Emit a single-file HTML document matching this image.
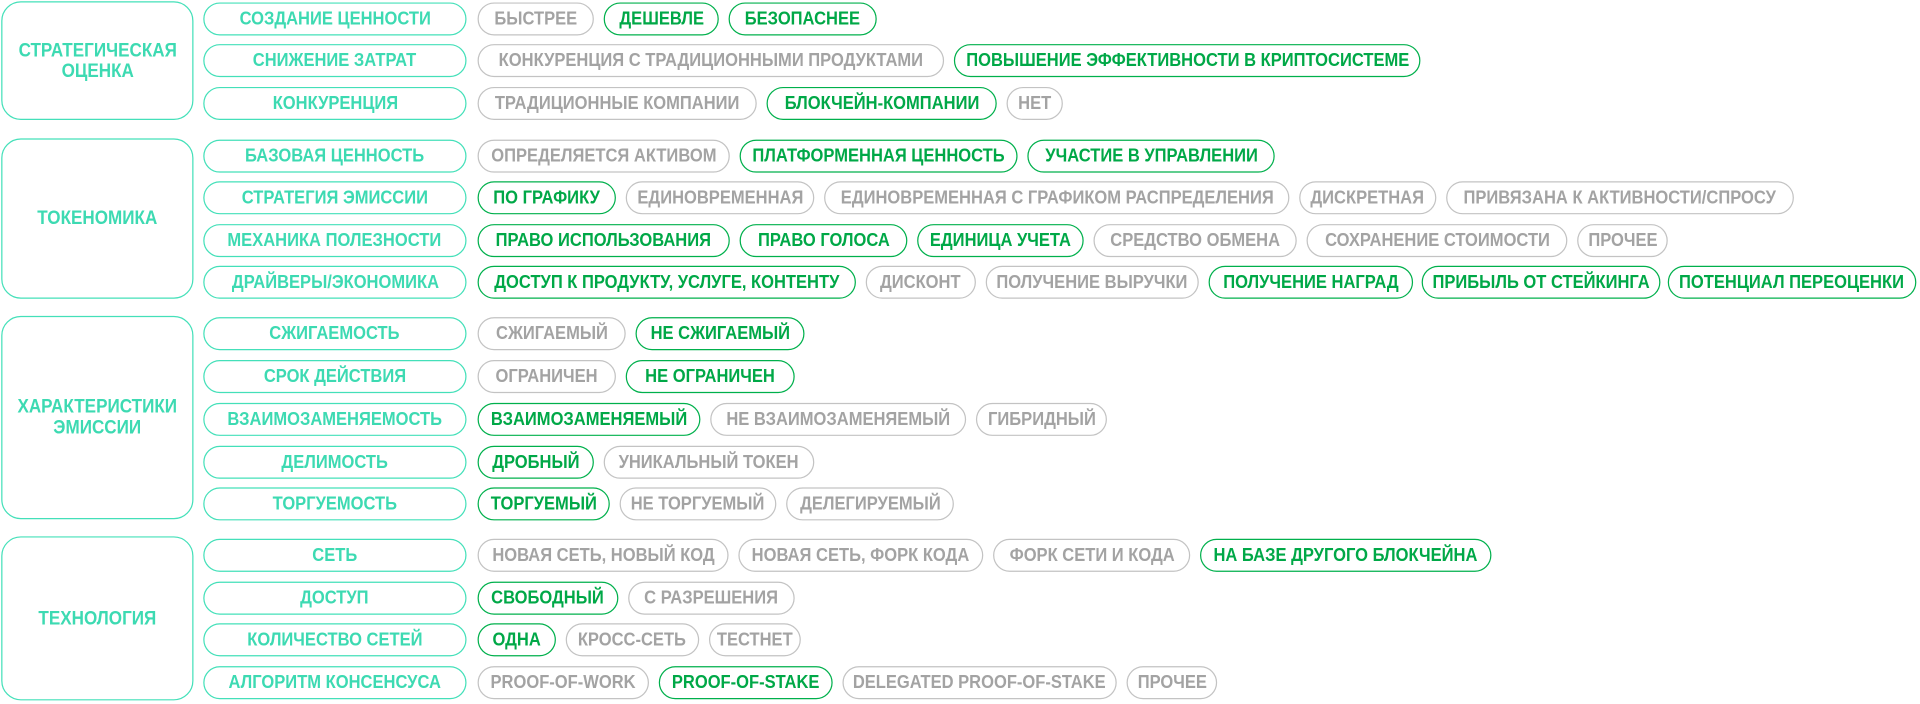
<!DOCTYPE html>
<html><head><meta charset="utf-8"><style>
html,body{margin:0;padding:0;background:#fff;}
body{width:1920px;height:704px;overflow:hidden;}
#w{position:absolute;left:0;top:0;width:1568px;height:575px;transform:scale(1.2245);transform-origin:0 0;font-family:"Liberation Sans Narrow","Liberation Sans",sans-serif;font-weight:bold;}
.c,.m,.g,.e{position:absolute;box-sizing:border-box;display:flex;align-items:center;justify-content:center;text-align:center;white-space:nowrap;font-size:15px;line-height:15px;}
.c span,.m span,.g span,.e span{display:inline-block;transform:scaleX(0.9);}
.c{border:1.5px solid #44e0b9;border-radius:16px;color:#3ddab2;left:1px;width:157px;font-size:15.5px;line-height:17px;}
.m{border:1.5px solid #44e0b9;border-radius:14px;color:#3ddab2;left:166px;width:215px;height:27px;}
.g{border:1.5px solid #c3c3c3;border-radius:14px;color:#a3a3a3;height:27px;}
.e{border:1.5px solid #00b04c;border-radius:14px;color:#00a847;height:27px;}
</style></head><body><div id="w">
<div class="c" style="top:1px;height:97px"><span>СТРАТЕГИЧЕСКАЯ<br>ОЦЕНКА</span></div>
<div class="c" style="top:113px;height:131px"><span>ТОКЕНОМИКА</span></div>
<div class="c" style="top:258px;height:166px"><span>ХАРАКТЕРИСТИКИ<br>ЭМИССИИ</span></div>
<div class="c" style="top:438px;height:134px"><span>ТЕХНОЛОГИЯ</span></div>

<div class="m" style="top:2px"><span>СОЗДАНИЕ ЦЕННОСТИ</span></div>
<div class="m" style="top:36px"><span>СНИЖЕНИЕ ЗАТРАТ</span></div>
<div class="m" style="top:71px"><span>КОНКУРЕНЦИЯ</span></div>
<div class="m" style="top:114px"><span>БАЗОВАЯ ЦЕННОСТЬ</span></div>
<div class="m" style="top:148px"><span>СТРАТЕГИЯ ЭМИССИИ</span></div>
<div class="m" style="top:183px"><span>МЕХАНИКА ПОЛЕЗНОСТИ</span></div>
<div class="m" style="top:217px"><span>ДРАЙВЕРЫ/ЭКОНОМИКА</span></div>
<div class="m" style="top:259px"><span>СЖИГАЕМОСТЬ</span></div>
<div class="m" style="top:294px"><span>СРОК ДЕЙСТВИЯ</span></div>
<div class="m" style="top:329px"><span>ВЗАИМОЗАМЕНЯЕМОСТЬ</span></div>
<div class="m" style="top:364px"><span>ДЕЛИМОСТЬ</span></div>
<div class="m" style="top:398px"><span>ТОРГУЕМОСТЬ</span></div>
<div class="m" style="top:440px"><span>СЕТЬ</span></div>
<div class="m" style="top:475px"><span>ДОСТУП</span></div>
<div class="m" style="top:509px"><span>КОЛИЧЕСТВО СЕТЕЙ</span></div>
<div class="m" style="top:544px"><span>АЛГОРИТМ КОНСЕНСУСА</span></div>

<div class="g" style="top:2px;left:390px;width:95px"><span>БЫСТРЕЕ</span></div>
<div class="e" style="top:2px;left:493px;width:94px"><span>ДЕШЕВЛЕ</span></div>
<div class="e" style="top:2px;left:595px;width:121px"><span>БЕЗОПАСНЕЕ</span></div>

<div class="g" style="top:36px;left:390px;width:381px"><span>КОНКУРЕНЦИЯ С ТРАДИЦИОННЫМИ ПРОДУКТАМИ</span></div>
<div class="e" style="top:36px;left:779px;width:381px"><span>ПОВЫШЕНИЕ ЭФФЕКТИВНОСТИ В КРИПТОСИСТЕМЕ</span></div>

<div class="g" style="top:71px;left:390px;width:228px"><span>ТРАДИЦИОННЫЕ КОМПАНИИ</span></div>
<div class="e" style="top:71px;left:626px;width:188px"><span>БЛОКЧЕЙН-КОМПАНИИ</span></div>
<div class="g" style="top:71px;left:822px;width:46px"><span>НЕТ</span></div>

<div class="g" style="top:114px;left:390px;width:206px"><span>ОПРЕДЕЛЯЕТСЯ АКТИВОМ</span></div>
<div class="e" style="top:114px;left:604px;width:227px"><span>ПЛАТФОРМЕННАЯ ЦЕННОСТЬ</span></div>
<div class="e" style="top:114px;left:839px;width:202px"><span>УЧАСТИЕ В УПРАВЛЕНИИ</span></div>

<div class="e" style="top:148px;left:390px;width:113px"><span>ПО ГРАФИКУ</span></div>
<div class="g" style="top:148px;left:511px;width:154px"><span>ЕДИНОВРЕМЕННАЯ</span></div>
<div class="g" style="top:148px;left:673px;width:380px"><span>ЕДИНОВРЕМЕННАЯ С ГРАФИКОМ РАСПРЕДЕЛЕНИЯ</span></div>
<div class="g" style="top:148px;left:1061px;width:112px"><span>ДИСКРЕТНАЯ</span></div>
<div class="g" style="top:148px;left:1181px;width:284px"><span>ПРИВЯЗАНА К АКТИВНОСТИ/СПРОСУ</span></div>

<div class="e" style="top:183px;left:390px;width:206px"><span>ПРАВО ИСПОЛЬЗОВАНИЯ</span></div>
<div class="e" style="top:183px;left:604px;width:137px"><span>ПРАВО ГОЛОСА</span></div>
<div class="e" style="top:183px;left:749px;width:136px"><span>ЕДИНИЦА УЧЕТА</span></div>
<div class="g" style="top:183px;left:893px;width:166px"><span>СРЕДСТВО ОБМЕНА</span></div>
<div class="g" style="top:183px;left:1067px;width:213px"><span>СОХРАНЕНИЕ СТОИМОСТИ</span></div>
<div class="g" style="top:183px;left:1288px;width:74px"><span>ПРОЧЕЕ</span></div>

<div class="e" style="top:217px;left:390px;width:309px"><span>ДОСТУП К ПРОДУКТУ, УСЛУГЕ, КОНТЕНТУ</span></div>
<div class="g" style="top:217px;left:707px;width:90px"><span>ДИСКОНТ</span></div>
<div class="g" style="top:217px;left:805px;width:174px"><span>ПОЛУЧЕНИЕ ВЫРУЧКИ</span></div>
<div class="e" style="top:217px;left:987px;width:167px"><span>ПОЛУЧЕНИЕ НАГРАД</span></div>
<div class="e" style="top:217px;left:1161px;width:195px"><span>ПРИБЫЛЬ ОТ СТЕЙКИНГА</span></div>
<div class="e" style="top:217px;left:1362px;width:203px"><span>ПОТЕНЦИАЛ ПЕРЕОЦЕНКИ</span></div>

<div class="g" style="top:259px;left:390px;width:121px"><span>СЖИГАЕМЫЙ</span></div>
<div class="e" style="top:259px;left:519px;width:138px"><span>НЕ СЖИГАЕМЫЙ</span></div>

<div class="g" style="top:294px;left:390px;width:113px"><span>ОГРАНИЧЕН</span></div>
<div class="e" style="top:294px;left:511px;width:138px"><span>НЕ ОГРАНИЧЕН</span></div>

<div class="e" style="top:329px;left:390px;width:182px"><span>ВЗАИМОЗАМЕНЯЕМЫЙ</span></div>
<div class="g" style="top:329px;left:580px;width:209px"><span>НЕ ВЗАИМОЗАМЕНЯЕМЫЙ</span></div>
<div class="g" style="top:329px;left:797px;width:107px"><span>ГИБРИДНЫЙ</span></div>

<div class="e" style="top:364px;left:390px;width:95px"><span>ДРОБНЫЙ</span></div>
<div class="g" style="top:364px;left:493px;width:172px"><span>УНИКАЛЬНЫЙ ТОКЕН</span></div>

<div class="e" style="top:398px;left:390px;width:108px"><span>ТОРГУЕМЫЙ</span></div>
<div class="g" style="top:398px;left:506px;width:128px"><span>НЕ ТОРГУЕМЫЙ</span></div>
<div class="g" style="top:398px;left:642px;width:137px"><span>ДЕЛЕГИРУЕМЫЙ</span></div>

<div class="g" style="top:440px;left:390px;width:205px"><span>НОВАЯ СЕТЬ, НОВЫЙ КОД</span></div>
<div class="g" style="top:440px;left:603px;width:200px"><span>НОВАЯ СЕТЬ, ФОРК КОДА</span></div>
<div class="g" style="top:440px;left:811px;width:161px"><span>ФОРК СЕТИ И КОДА</span></div>
<div class="e" style="top:440px;left:980px;width:238px"><span>НА БАЗЕ ДРУГОГО БЛОКЧЕЙНА</span></div>

<div class="e" style="top:475px;left:390px;width:115px"><span>СВОБОДНЫЙ</span></div>
<div class="g" style="top:475px;left:513px;width:136px"><span>С РАЗРЕШЕНИЯ</span></div>

<div class="e" style="top:509px;left:390px;width:64px"><span>ОДНА</span></div>
<div class="g" style="top:509px;left:462px;width:109px"><span>КРОСС-СЕТЬ</span></div>
<div class="g" style="top:509px;left:579px;width:75px"><span>ТЕСТНЕТ</span></div>

<div class="g" style="top:544px;left:390px;width:140px"><span>PROOF-OF-WORK</span></div>
<div class="e" style="top:544px;left:538px;width:142px"><span>PROOF-OF-STAKE</span></div>
<div class="g" style="top:544px;left:688px;width:224px"><span>DELEGATED PROOF-OF-STAKE</span></div>
<div class="g" style="top:544px;left:920px;width:74px"><span>ПРОЧЕЕ</span></div>
</div></body></html>
